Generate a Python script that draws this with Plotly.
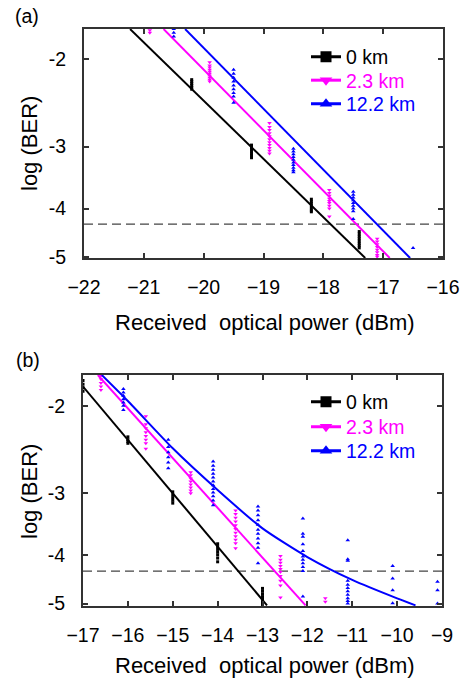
import plotly.graph_objects as go

# ---------------- data (log BER values) ----------------
# Panel (a)
a_0km_x = [-20.2, -19.2, -18.2, -17.4]
a_0km_y = [[-2.20, -2.22, -2.24, -2.26, -2.28, -2.30],
           [-2.98, -3.01, -3.04, -3.07, -3.10, -3.13, -3.16],
           [-3.83, -3.87, -3.91, -3.95, -3.99, -4.03, -4.06],
           [-4.45, -4.50, -4.55, -4.60, -4.65, -4.70, -4.75, -4.80]]
a_23km_x = [-20.9, -19.9, -18.9, -17.9, -17.1]
a_23km_y = [[-1.75, -1.77],
            [-2.03, -2.06, -2.08, -2.10, -2.12, -2.14, -2.16, -2.18, -2.20, -2.22],
            [-2.69, -2.74, -2.78, -2.82, -2.86, -2.90, -2.94, -2.98, -3.02, -3.06, -3.10],
            [-3.67, -3.72, -3.77, -3.82, -3.86, -3.90, -3.95, -4.00, -4.15],
            [-4.60, -4.66, -4.72, -4.78, -4.84, -4.90, -4.96, -5.00]]
a_122km_x = [-20.5, -19.5, -18.5, -17.5, -16.5]
a_122km_y = [[-1.74, -1.77, -1.80],
             [-2.10, -2.14, -2.18, -2.22, -2.26, -2.30, -2.34, -2.38, -2.45],
             [-3.03, -3.07, -3.11, -3.15, -3.19, -3.23, -3.27, -3.31, -3.35, -3.38],
             [-3.70, -3.75, -3.80, -3.85, -3.90, -3.95, -4.00, -4.05, -4.20],
             [-4.80]]
a_fit_0km_x = [-21.23, -17.30]
a_fit_0km_y = [-1.74, -5.03]
a_fit_23km_x = [-20.67, -16.89]
a_fit_23km_y = [-1.74, -5.03]
a_fit_122km_x = [-20.31, -16.55]
a_fit_122km_y = [-1.74, -5.03]

# Panel (b)
b_0km_x = [-17, -16, -15, -14, -13]
b_0km_y = [[-1.78, -1.81, -1.84, -1.87],
           [-2.31, -2.34, -2.36, -2.38],
           [-2.98, -3.02, -3.06, -3.10, -3.14],
           [-3.79, -3.84, -3.89, -3.94, -3.99, -4.05, -4.12],
           [-4.66, -4.72, -4.78, -4.84, -4.90, -4.96, -5.02]]
b_23km_x = [-16.6, -15.6, -14.6, -13.6, -12.6, -11.6]
b_23km_y = [[-1.74, -1.77, -1.80, -1.83, -1.86],
            [-2.10, -2.18, -2.22, -2.26, -2.30, -2.34, -2.38, -2.44],
            [-2.72, -2.76, -2.80, -2.84, -2.88, -2.92, -2.96, -3.00],
            [-3.25, -3.30, -3.36, -3.42, -3.48, -3.54, -3.60, -3.66, -3.72, -3.78, -3.87],
            [-4.01, -4.08, -4.14, -4.20, -4.26, -4.32, -4.40, -4.50, -4.60, -4.86],
            [-4.88, -4.96]]
b_122km_x = [-16.1, -15.1, -14.1, -13.1, -12.1, -11.1, -10.1, -9.1]
b_122km_y = [[-1.85, -1.88, -1.91, -1.94, -1.97, -2.00, -2.04],
             [-2.34, -2.42, -2.48, -2.54, -2.60, -2.67],
             [-2.59, -2.64, -2.69, -2.74, -2.79, -2.84, -2.89, -2.94, -2.99, -3.04, -3.10, -3.17],
             [-3.19, -3.25, -3.32, -3.40, -3.47, -3.55, -3.62, -3.70, -3.78, -3.86, -4.15],
             [-3.37, -3.62, -3.67, -3.80, -3.92, -4.02, -4.08, -4.15, -4.22, -4.30, -4.84],
             [-3.73, -4.07, -4.10, -4.50, -4.58, -4.65, -4.72, -4.80, -4.88, -4.94, -5.00],
             [-4.20, -4.45, -4.70, -4.99],
             [-4.52, -4.70, -5.00]]
b_fit_0km_x = [-17.0, -12.9]
b_fit_0km_y = [-1.83, -5.04]
b_fit_23km_x = [-16.67, -12.04]
b_fit_23km_y = [-1.735, -5.04]
b_fit_122km_x = [-16.58, -16, -15, -14, -13, -12, -11, -10, -9.59]
b_fit_122km_y = [-1.735, -1.957, -2.436, -2.955, -3.53, -4.03, -4.48, -4.88, -5.04]

fec_limit = -4.3
series_names = ["0 km", "2.3 km", "12.2 km"]
y_tick_vals = [-2, -3, -4, -5]
y_tick_text = ["-2", "-3", "-4", "-5"]

# ---------------- styling ----------------
FONT = "Arial, 'Liberation Sans', sans-serif"
colors = ["#000000", "#ff00ff", "#0000ff"]
symbols = ["square", "triangle-down", "triangle-up"]
msizes = [3, 4, 4]
W, H = 461, 679


def flat(xs, ys):
    fx, fy = [], []
    for x, col in zip(xs, ys):
        for v in col:
            fx.append(x)
            fy.append(-v)
    return fx, fy


fig = go.Figure()

panels = [
    dict(xa="x", ya="y", rows=[57, 80.5, 104],
         pts=[(a_0km_x, a_0km_y), (a_23km_x, a_23km_y), (a_122km_x, a_122km_y)],
         fits=[(a_fit_0km_x, a_fit_0km_y), (a_fit_23km_x, a_fit_23km_y), (a_fit_122km_x, a_fit_122km_y)],
         xr=[-22, -16]),
    dict(xa="x2", ya="y2", rows=[402, 427, 451],
         pts=[(b_0km_x, b_0km_y), (b_23km_x, b_23km_y), (b_122km_x, b_122km_y)],
         fits=[(b_fit_0km_x, b_fit_0km_y), (b_fit_23km_x, b_fit_23km_y), (b_fit_122km_x, b_fit_122km_y)],
         xr=[-17, -9]),
]

legend_layouts = {}
leg_idx = 0
for p in panels:
    fig.add_trace(go.Scatter(x=p["xr"], y=[-fec_limit, -fec_limit], mode="lines",
                             line=dict(color="#444444", width=1.2, dash="9px,5px"),
                             xaxis=p["xa"], yaxis=p["ya"], showlegend=False, hoverinfo="skip"))
    for i in range(3):
        fx, fy = flat(*p["pts"][i])
        fig.add_trace(go.Scatter(x=fx, y=fy, mode="markers",
                                 marker=dict(symbol=symbols[i], size=msizes[i], color=colors[i],
                                             line=dict(width=0)),
                                 xaxis=p["xa"], yaxis=p["ya"], showlegend=False))
        lx, ly = p["fits"][i]
        fig.add_trace(go.Scatter(x=lx, y=[-v for v in ly], mode="lines",
                                 line=dict(color=colors[i], width=2,
                                           shape="spline" if len(lx) > 2 else "linear",
                                           smoothing=0.6),
                                 xaxis=p["xa"], yaxis=p["ya"], showlegend=False))
    for i in range(3):
        leg_idx += 1
        lname = "legend" if leg_idx == 1 else f"legend{leg_idx}"
        fig.add_trace(go.Scatter(x=[None], y=[None], mode="lines+markers",
                                 name=series_names[i],
                                 line=dict(color=colors[i], width=3),
                                 marker=dict(symbol=symbols[i], size=11, color=colors[i]),
                                 xaxis=p["xa"], yaxis=p["ya"], legend=lname))
        legend_layouts[lname] = dict(x=306 / W, y=1 - p["rows"][i] / H,
                                     xanchor="left", yanchor="middle",
                                     bgcolor="rgba(0,0,0,0)", borderwidth=0,
                                     font=dict(family=FONT, size=19.5, color=colors[i]),
                                     itemwidth=30)

axis_common = dict(showline=True, linecolor="#333333", linewidth=2, mirror="ticks",
                   ticks="inside", ticklen=5, tickwidth=1.5, tickcolor="#333333",
                   showgrid=False, zeroline=False,
                   tickfont=dict(family=FONT, size=19.5, color="#000000"))

ya_range = [0.7016, 0.2404]
yb_range = [0.7038, 0.2392]
yvals = [-v for v in y_tick_vals]

fig.update_layout(
    width=W, height=H,
    margin=dict(l=0, r=0, t=0, b=0, autoexpand=False),
    paper_bgcolor="white", plot_bgcolor="white",
    font=dict(family=FONT, color="#000000"),
    xaxis=dict(domain=[84 / W, 443 / W], range=[-22, -16], dtick=1,
               anchor="y", ticklabelstandoff=11, **axis_common),
    yaxis=dict(domain=[1 - 258 / H, 1 - 29 / H], type="log", range=ya_range,
               tickvals=yvals, ticktext=y_tick_text, anchor="x",
               ticklabelstandoff=12, **axis_common),
    xaxis2=dict(domain=[83 / W, 442 / W], range=[-17, -9], dtick=1,
                anchor="y2", ticklabelstandoff=11, **axis_common),
    yaxis2=dict(domain=[1 - 606 / H, 1 - 375 / H], type="log", range=yb_range,
                tickvals=yvals, ticktext=y_tick_text, anchor="x2",
                ticklabelstandoff=12, **axis_common),
    showlegend=True,
    **legend_layouts,
)

ann = [
    ("(a)", 27, 16, 0, 19.5),
    ("(b)", 28, 360, 0, 19.5),
    ("log (BER)", 29, 144, -90, 22),
    ("log (BER)", 29, 492, -90, 22),
    ("Received  optical power (dBm)", 265, 322, 0, 22),
    ("Received  optical power (dBm)", 265, 665, 0, 22),
]
for text, px, py, ang, sz in ann:
    fig.add_annotation(text=text, x=px / W, y=1 - py / H, xref="paper", yref="paper",
                       xanchor="center", yanchor="middle", showarrow=False, textangle=ang,
                       font=dict(family=FONT, size=sz, color="#000000"))

fig.write_html("out.html", config={"displayModeBar": False},
               post_script="document.body.style.margin='0px';")
